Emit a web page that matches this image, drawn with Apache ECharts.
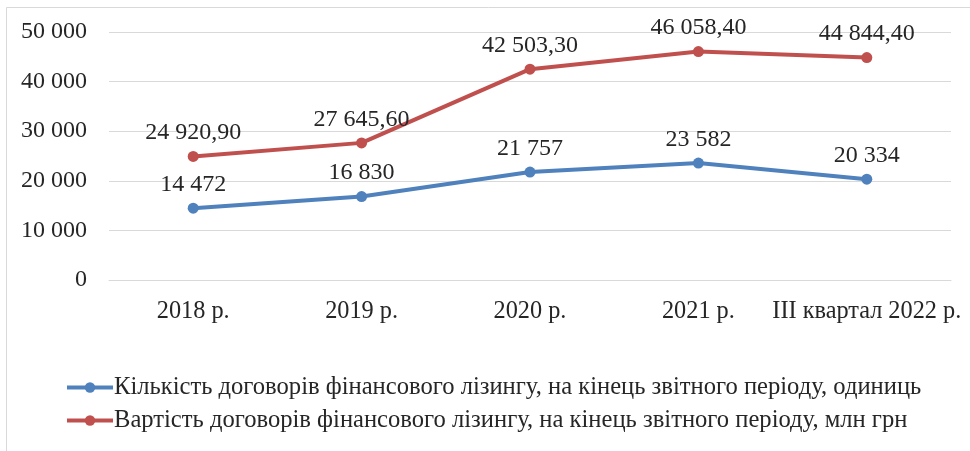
<!DOCTYPE html>
<html>
<head>
<meta charset="utf-8">
<script src="https://cdn.jsdelivr.net/npm/echarts@6/dist/echarts.min.js"></script>
<style>
  html, body { margin: 0; padding: 0; background: #fff; }
  #chart { width: 970px; height: 451px; }
</style>
</head>
<body>
<div id="chart"></div>
<script>
// дані з рисунка
var categories = ['2018 р.', '2019 р.', '2020 р.', '2021 р.', 'III квартал 2022 р.'];
var countValues = [14472, 16830, 21757, 23582, 20334];
var costValues = [24920.9, 27645.6, 42503.3, 46058.4, 44844.4];
var seriesNames = [
    'Кількість договорів фінансового лізингу, на кінець звітного періоду, одиниць',
    'Вартість договорів фінансового лізингу, на кінець звітного періоду, млн грн'
];

var font = 'Liberation Serif, Times New Roman, serif';

function groupThousands(s) {
    return s.replace(/\B(?=(\d{3})+(?!\d))/g, ' ');
}
function fmtInt(v) {
    return groupThousands(String(Math.round(v)));
}
function fmtDec(v) {
    var parts = v.toFixed(2).split('.');
    return groupThousands(parts[0]) + ',' + parts[1];
}

var myChart = echarts.init(document.getElementById('chart'));

var option = {
    animation: false,
    backgroundColor: '#fff',
    textStyle: { fontFamily: font },
    graphic: [{
        type: 'rect',
        shape: { x: 6.5, y: 7.5, width: 980, height: 460 },
        style: { fill: 'none', stroke: '#d9d9d9', lineWidth: 1 },
        silent: true
    }],
    grid: {
        left: 109,
        right: 19,
        top: 32,
        bottom: 171,
        containLabel: false
    },
    legend: {
        orient: 'vertical',
        left: 60,
        top: 370,
        itemGap: 8,
        itemWidth: 46,
        itemHeight: 13,
        lineStyle: { width: 4 },
        textStyle: { fontFamily: font, fontSize: 24.6, color: '#262626', padding: [0, 0, 0, -4] },
        data: seriesNames
    },
    xAxis: {
        type: 'category',
        boundaryGap: true,
        data: categories,
        axisLine: { show: true, lineStyle: { color: '#d9d9d9', width: 1 } },
        axisTick: { show: false },
        axisLabel: { interval: 0, fontFamily: font, fontSize: 24.3, color: '#262626', margin: 20 }
    },
    yAxis: {
        type: 'value',
        min: 0,
        max: 50000,
        interval: 10000,
        axisLine: { show: false },
        axisTick: { show: false },
        splitLine: { lineStyle: { color: '#d9d9d9', width: 1 } },
        axisLabel: {
            fontFamily: font, fontSize: 24, color: '#262626', margin: 22,
            formatter: function (v) { return fmtInt(v); }
        }
    },
    series: [
        {
            name: seriesNames[0],
            type: 'line',
            data: countValues,
            color: '#4f81bd',
            symbol: 'circle',
            symbolSize: 11,
            lineStyle: { width: 4 },
            label: {
                show: true, position: 'top', distance: 6,
                fontFamily: font, fontSize: 24, color: '#262626',
                formatter: function (p) { return fmtInt(p.value); }
            }
        },
        {
            name: seriesNames[1],
            type: 'line',
            data: costValues,
            color: '#c0504d',
            symbol: 'circle',
            symbolSize: 11,
            lineStyle: { width: 4 },
            label: {
                show: true, position: 'top', distance: 6,
                fontFamily: font, fontSize: 24, color: '#262626',
                formatter: function (p) { return fmtDec(p.value); }
            }
        }
    ]
};

myChart.setOption(option);
window.onresize = function () {
    myChart.resize();
};
</script>
</body>
</html>
